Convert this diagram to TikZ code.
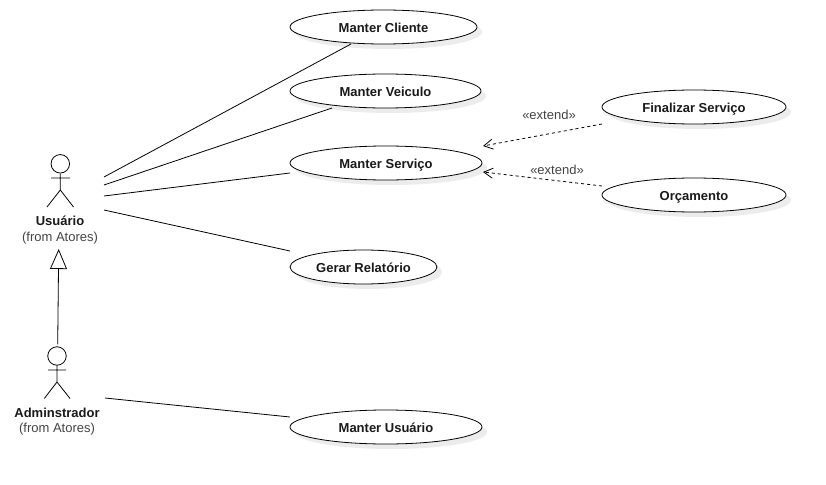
\documentclass[tikz,border=0pt]{standalone}
\usepackage{fontspec}
\setmainfont{Liberation Sans}
\usetikzlibrary{arrows.meta,shapes.geometric}
\definecolor{txt}{HTML}{1A1A1A}
\definecolor{subtxt}{HTML}{444444}
\definecolor{shadowc}{HTML}{ECECEC}
\tikzset{
  x=1pt,y=-1pt,
  every path/.style={line width=0.8pt},
  textbox/.style={inner sep=0pt,text height=10.6pt,text depth=0pt},
  usecase/.style={shape=ellipse,draw=black,fill=white,inner sep=0pt,minimum height=34pt,
    font=\fontsize{13}{15}\selectfont\bfseries,text=txt,text height=10.6pt,text depth=0pt},
  head/.style={circle,draw=black,fill=white,inner sep=0pt,minimum size=18.5pt},
  actorname/.style={textbox,font=\fontsize{13}{15}\selectfont\bfseries,text=txt},
  actorfrom/.style={textbox,font=\fontsize{13}{15}\selectfont,text=subtxt},
  stereo/.style={textbox,text height=8pt,font=\fontsize{13}{15}\selectfont,text=subtxt},
  assoc/.style={draw=black},
  extendline/.style={draw=black,dash pattern=on 3pt off 3pt,-{Straight Barb[length=9pt,width=10pt]}},
  inherit/.style={draw=black,-{Triangle[open,fill=white,length=20pt,width=17pt]}},
  shadowfill/.style={fill=shadowc,draw=none}
}
\begin{document}
\begin{tikzpicture}
\useasboundingbox[fill=white] (0,0) rectangle (826,484);
% shadows
\fill[shadowfill] (388.5,32) ellipse [x radius=93.5,y radius=17];
\fill[shadowfill] (390.5,96) ellipse [x radius=95.5,y radius=17];
\fill[shadowfill] (391,168) ellipse [x radius=96,y radius=17];
\fill[shadowfill] (368.5,272) ellipse [x radius=73.5,y radius=17];
\fill[shadowfill] (391,432) ellipse [x radius=96,y radius=17];
\fill[shadowfill] (699,112) ellipse [x radius=92,y radius=17];
\fill[shadowfill] (699,200) ellipse [x radius=92,y radius=17];
% use cases
\node[usecase,minimum width=187pt] (cliente) at (383.5,27) {Manter Cliente};
\node[usecase,minimum width=191pt] (veiculo) at (385.5,91) {Manter Veiculo};
\node[usecase,minimum width=192pt] (servico) at (386,163) {Manter Serviço};
\node[usecase,minimum width=147pt] (relatorio) at (363.5,267) {Gerar Relatório};
\node[usecase,minimum width=192pt] (musuario) at (386,427) {Manter Usuário};
\node[usecase,minimum width=184pt] (finalizar) at (694,107) {Finalizar Serviço};
\node[usecase,minimum width=184pt] (orcamento) at (694,195) {Orçamento};
% actor Usuario
\node[head] (uhead) at (60.3,163.8) {};
\coordinate (uhip) at (60.3,190);
\coordinate (ularm) at (51,178);
\coordinate (urarm) at (70,178);
\coordinate (ulleg) at (47,207);
\coordinate (urleg) at (73.5,207);
\draw (uhead.south) -- (uhip) (ularm) -- (urarm) (ulleg) -- (uhip) -- (urleg);
\node[actorname] (uname) at (60,220) {Usuário};
\node[actorfrom] (ufrom) at (60,236) {(from Atores)};
% actor Adminstrador
\node[head] (ahead) at (57,356) {};
\coordinate (ahip) at (57,382);
\coordinate (alarm) at (48,370);
\coordinate (ararm) at (66,370);
\coordinate (alleg) at (44.3,398.5);
\coordinate (arleg) at (70,398.5);
\draw (ahead.south) -- (ahip) (alarm) -- (ararm) (alleg) -- (ahip) -- (arleg);
\node[actorname] (aname) at (57,412) {Adminstrador};
\node[actorfrom] (afrom) at (57,427) {(from Atores)};
% attachment points of the actors
\coordinate (uport1) at (104,177);
\coordinate (uport2) at (104,185);
\coordinate (uport3) at (104,196);
\coordinate (uport4) at (104,210);
\coordinate (aport) at (105,398);
% connectors
\draw[assoc] (uport1) -- ([xshift=-32.5pt,yshift=-17pt]cliente.center);
\draw[assoc] (uport2) -- ([xshift=-53.5pt,yshift=-17pt]veiculo.center);
\draw[assoc] (uport3) -- ([xshift=-96pt,yshift=-10pt]servico.center);
\draw[assoc] (uport4) -- ([xshift=-73.5pt,yshift=16pt]relatorio.center);
\draw[assoc] (aport) -- ([xshift=-96pt,yshift=10pt]musuario.center);
\draw[inherit] ([xshift=0.7pt,yshift=2pt]ahead.north) -- ([xshift=-1.3pt,yshift=-13pt]ufrom.center);
\draw[extendline] ([xshift=-92pt,yshift=-17pt]finalizar.center) -- ([xshift=97pt,yshift=17pt]servico.center);
\draw[extendline] ([xshift=-92pt,yshift=9pt]orcamento.center) -- ([xshift=97pt,yshift=-9pt]servico.center);
\node[stereo] (ext1) at (549,115) {«extend»};
\node[stereo] (ext2) at (557,170) {«extend»};
\end{tikzpicture}
\end{document}
